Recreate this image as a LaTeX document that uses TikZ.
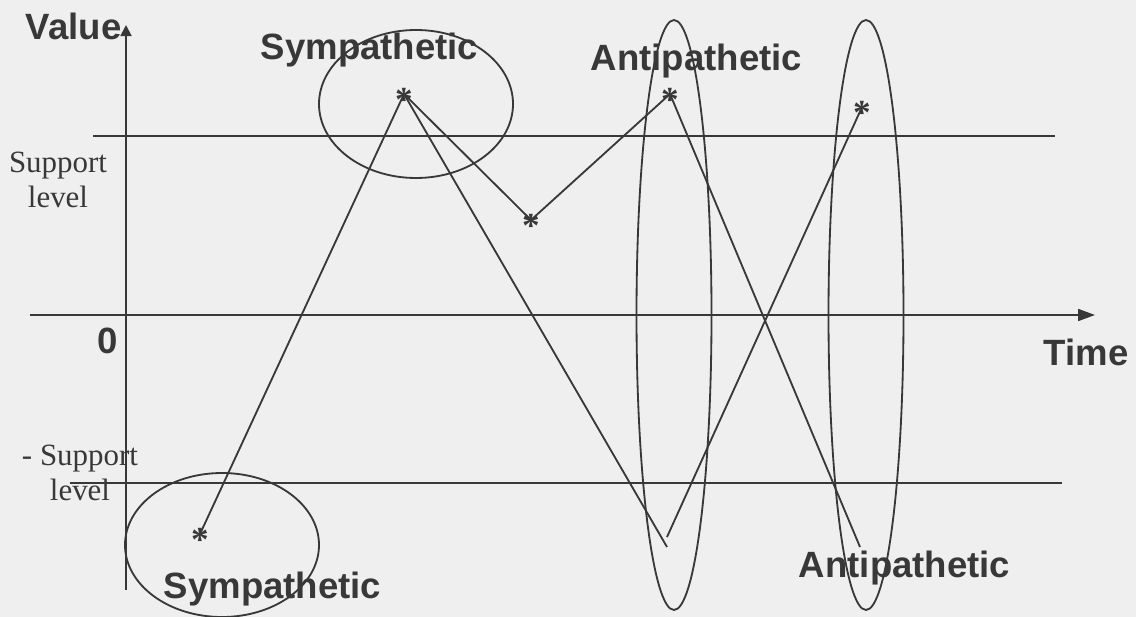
\documentclass[tikz,border=0pt]{standalone}
\usepackage{fontspec}
\setmainfont{Liberation Serif}
\newfontfamily\labelfont{Liberation Sans}
\usetikzlibrary{arrows.meta}
\definecolor{PaperGray}{HTML}{EFEFEF}
\definecolor{InkGray}{HTML}{383838}

\begin{document}
\begin{tikzpicture}[x=0.025cm, y=-0.025cm, line width=1.3pt, color=InkGray,
    axislabel/.style={font=\labelfont\bfseries\fontsize{26}{30}\selectfont, inner sep=0pt, anchor=base west},
    levellabel/.style={font=\fontsize{22}{25}\selectfont, align=center, inner sep=0pt},
    startick/.style={font=\bfseries\fontsize{25}{25}\selectfont, inner sep=0pt, anchor=base, yshift=-12.5pt}]
    % 0. Paper and frame
    \fill[PaperGray] (0,0) rectangle (1136,617);
    \useasboundingbox (0,0) rectangle (1136,617);

    % 1. Axes (Value up, Time right)
    \coordinate (Yfoot) at (126,590);
    \coordinate (Ytip) at (126,25);
    \coordinate (Tfoot) at (30,315);
    \coordinate (Ttip) at (1095,315);
    \draw[-{Triangle[length=8pt, width=8pt]}] (Yfoot) -- (Ytip);
    \draw[-{Triangle[length=12pt, width=8.5pt]}] (Tfoot) -- (Ttip);

    % 2. Support levels
    \coordinate (SupL) at (93,136);
    \coordinate (SupR) at (1055,136);
    \coordinate (NegSupL) at (70,483);
    \coordinate (NegSupR) at (1062,483);
    \draw (SupL) -- (SupR);
    \draw (NegSupL) -- (NegSupR);

    % 3. Sympathetic rings and tall antipathetic rings
    \draw (416,104) ellipse [x radius=97, y radius=74];
    \draw (222,545) ellipse [x radius=97, y radius=72];
    \draw (674,315) ellipse [x radius=37.5, y radius=295];
    \draw (866,315) ellipse [x radius=37.5, y radius=295];

    % -------------------------------------------------------------
    % TURNING POINTS
    % -------------------------------------------------------------
    \coordinate (LowSym) at (200,534);
    \coordinate (TopSym) at (404,94);
    \coordinate (Dip) at (531,220);
    \coordinate (TopAnti) at (670,94);
    \coordinate (RightPeak) at (862,107);
    \coordinate (BotAntiA) at (667,547);
    \coordinate (BotAntiB) at (667,537);
    \coordinate (BotAntiC) at (860,547);

    % 4. Price paths
    \draw (LowSym) -- (TopSym);
    \draw (TopSym) -- (Dip);
    \draw (Dip) -- (TopAnti);
    \draw (TopSym) -- (BotAntiA);
    \draw (BotAntiB) -- (RightPeak);
    \draw (TopAnti) -- (BotAntiC);

    % 5. Star marks
    \node[startick] (starLow) at (LowSym) {*};
    \node[startick] (starTop) at (TopSym) {*};
    \node[startick] (starDip) at (Dip) {*};
    \node[startick] (starAnti) at (TopAnti) {*};
    \node[startick] (starRight) at (RightPeak) {*};

    % 6. Labels
    \node[axislabel] (valueLbl) at (25,40) {Value};
    \node[axislabel] (timeLbl) at (1043,365) {Time};
    \node[axislabel] (zeroLbl) at (97,353) {0};
    \node[axislabel] (symTopLbl) at (260,60) {Sympathetic};
    \node[axislabel] (antiTopLbl) at (590,71) {Antipathetic};
    \node[axislabel] (symBotLbl) at (163,598) {Sympathetic};
    \node[axislabel] (antiBotLbl) at (798,577) {Antipathetic};
    \node[levellabel] (supLbl) at (58,180) {Support\\level};
    \node[levellabel] (negSupLbl) at (80,473) {- Support\\level};
\end{tikzpicture}
\end{document}
